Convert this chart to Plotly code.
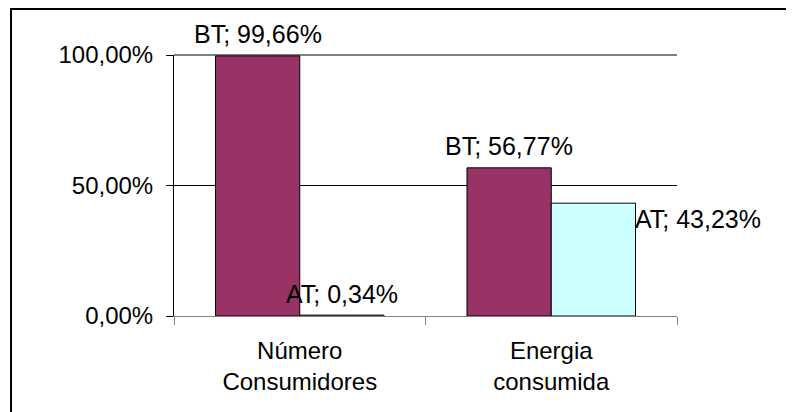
import plotly.graph_objects as go

categories = ["Número<br>Consumidores", "Energia<br>consumida"]
series_names = ["BT", "AT"]
bt_values = [99.66, 56.77]
at_values = [0.34, 43.23]
bt_labels = ["BT; 99,66%", "BT; 56,77%"]
at_labels = ["AT; 0,34%", "AT; 43,23%"]
tick_vals = [0, 50, 100]
tick_text = ["0,00%", "50,00%", "100,00%"]

FONT = "Liberation Sans, Arial, sans-serif"
FS = 24
LFS = 25

fig = go.Figure()
fig.add_trace(go.Bar(x=categories, y=bt_values, name=series_names[0],
                     marker=dict(color="#993366", line=dict(color="black", width=1))))
fig.add_trace(go.Bar(x=categories, y=at_values, name=series_names[1],
                     marker=dict(color="#CCFFFF", line=dict(color="black", width=1))))

ann = []
for i, c in enumerate(categories):
    ann.append(dict(x=c, y=bt_values[i], xref="x", yref="y", text=bt_labels[i],
                    showarrow=False, xshift=-42, yshift=6, yanchor="bottom",
                    font=dict(family=FONT, size=LFS, color="black")))
# AT labels
ann.append(dict(x=categories[0], y=at_values[0], xref="x", yref="y", text=at_labels[0],
                showarrow=False, xshift=42, yshift=5, yanchor="bottom",
                font=dict(family=FONT, size=LFS, color="black")))
ann.append(dict(x=categories[1], y=at_values[1], xref="x", yref="y", text=at_labels[1],
                showarrow=False, xshift=82, yshift=0, xanchor="left", yanchor="top",
                font=dict(family=FONT, size=LFS, color="black")))

fig.update_layout(
    width=794, height=412,
    margin=dict(l=166, r=125, t=47, b=104, autoexpand=False),
    paper_bgcolor="white", plot_bgcolor="white",
    barmode="group", bargap=0.33, bargroupgap=0,
    showlegend=False,
    font=dict(family=FONT, size=FS, color="black"),
    annotations=ann,
    shapes=[
        dict(type="rect", xref="paper", yref="paper",
             x0=-0.324, x1=1.5, y0=-0.45, y1=1.176,
             line=dict(color="black", width=2), fillcolor="rgba(0,0,0,0)",
             layer="below"),
        # top gridline (at the 100% tick, i.e. the top of the y range)
        dict(type="line", xref="paper", yref="paper",
             x0=0, x1=1, y0=1, y1=1,
             line=dict(color="black", width=1), layer="above"),
    ],
)
fig.update_yaxes(range=[0, 100], tickvals=tick_vals, ticktext=tick_text, automargin=False,
                 showgrid=True, gridcolor="black", gridwidth=1, zeroline=False,
                 showline=True, linecolor="black", linewidth=1,
                 ticks="outside", ticklen=7, tickcolor="black",
                 ticklabelstandoff=8,
                 tickfont=dict(family=FONT, size=FS, color="black"))
fig.update_xaxes(range=[-0.5, 1.5], automargin=False,
                 showline=True, linecolor="#808080", linewidth=1,
                 ticks="outside", tickson="boundaries", ticklen=8, tickcolor="#808080",
                 ticklabelstandoff=13,
                 showgrid=False,
                 tickfont=dict(family=FONT, size=FS, color="black"))

fig.write_html("out.html")
